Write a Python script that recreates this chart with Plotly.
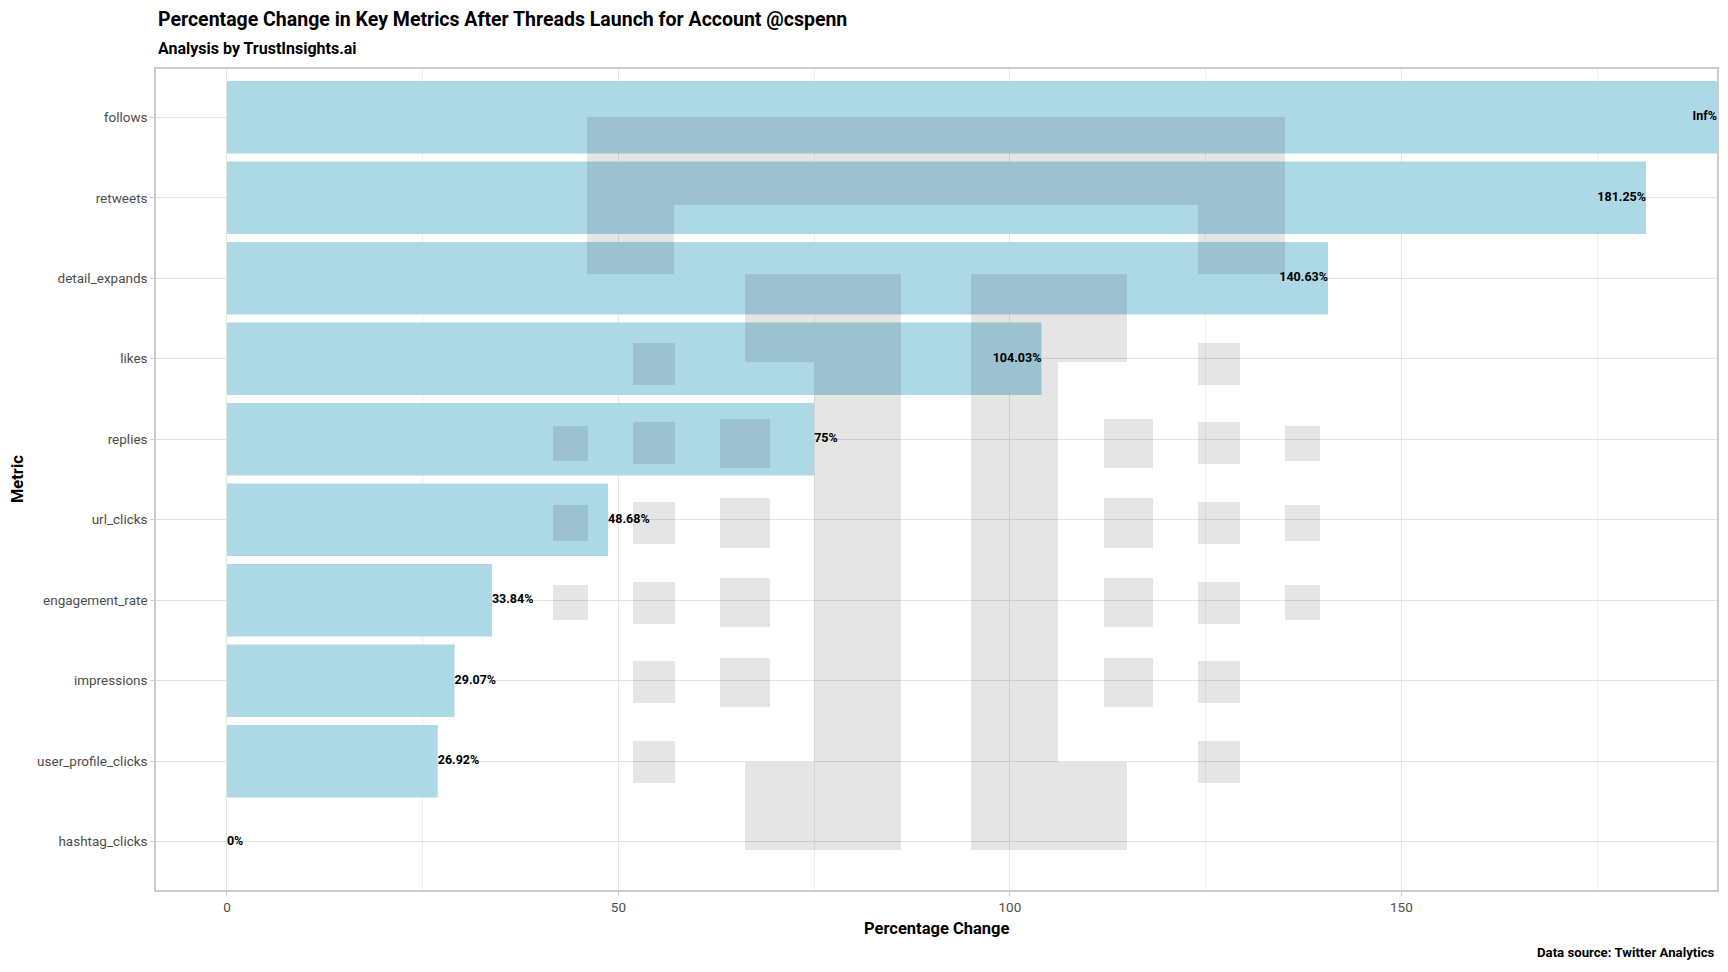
import math
import plotly.graph_objects as go

# ---- data ----
metrics = ["follows", "retweets", "detail_expands", "likes", "replies",
           "url_clicks", "engagement_rate", "impressions",
           "user_profile_clicks", "hashtag_clicks"]
pct_change = [math.inf, 181.25, 140.63, 104.03, 75.0, 48.68, 33.84, 29.07, 26.92, 0.0]
x_ticks = [0, 50, 100, 150]

title = "Percentage Change in Key Metrics After Threads Launch for Account @cspenn"
subtitle = "Analysis by TrustInsights.ai"
caption = "Data source: Twitter Analytics"

FONT = "Roboto, Liberation Sans, sans-serif"
W, H = 1728, 972
ML, MR, MT, MB = 156, 11, 69, 82
PW, PH = W - ML - MR, H - MT - MB

finite = [v for v in pct_change if math.isfinite(v)]
span = max(finite) - 0
xmin, xmax = 0 - 0.05 * span, max(finite) + 0.05 * span

plot_vals = [xmax if math.isinf(v) else v for v in pct_change]
labels = [("Inf%" if math.isinf(v) else f"{v:g}%") for v in pct_change]
positions = ["middle left" if v > 100 else "middle right" for v in pct_change]

fig = go.Figure()
fig.add_trace(go.Bar(
    x=plot_vals, y=metrics, orientation="h", width=0.9,
    marker=dict(color="#ADD8E6", line=dict(width=0)),
    hoverinfo="skip", showlegend=False,
))
fig.add_trace(go.Scatter(
    x=plot_vals, y=metrics, mode="text", text=labels, textposition=positions,
    textfont=dict(family=FONT, size=12.5, color="black", weight="bold"),
    cliponaxis=False, showlegend=False, hoverinfo="skip",
))

# ---- watermark logo (decoration, pixel rectangles converted to paper coords) ----
def rect(x0, y0, x1, y1):
    return dict(type="rect", xref="paper", yref="paper",
                x0=(x0 - ML) / PW, x1=(x1 - ML) / PW,
                y0=(MT + PH - y1) / PH, y1=(MT + PH - y0) / PH,
                fillcolor="rgba(0,0,0,0.1)", line=dict(width=0), layer="above")

logo = [
    (587, 117, 1285, 205), (587, 205, 674, 274), (1198, 205, 1285, 274),
    (745, 274, 901, 362), (814, 362, 901, 762), (745, 762, 901, 850),
    (971, 274, 1127, 362), (971, 362, 1058, 762), (971, 762, 1127, 850),
]
colA = (553, 588); colF = (1285, 1320)
colB = (633, 675); colE = (1198, 1240)
colC = (720, 770); colD = (1104, 1153)
rowsAF = [(426, 461), (505, 541), (585, 620)]
rowsBE = [(343, 385), (422, 464), (502, 544), (582, 624), (661, 703), (741, 783)]
rowsCD = [(419, 468), (498, 548), (578, 627), (658, 707)]
for cols, rows in [((colA, colF), rowsAF), ((colB, colE), rowsBE), ((colC, colD), rowsCD)]:
    for c in cols:
        for r in rows:
            logo.append((c[0], r[0], c[1], r[1]))
shapes = [rect(*r) for r in logo]

annotations = [
    dict(text=f"<b>{title}</b>", x=0, y=1, xref="paper", yref="paper", xanchor="left",
         yanchor="middle", yshift=MT - 19, showarrow=False,
         font=dict(family=FONT, size=19.5, color="black")),
    dict(text=f"<b>{subtitle}</b>", x=0, y=1, xref="paper", yref="paper", xanchor="left",
         yanchor="middle", yshift=MT - 48.5, showarrow=False,
         font=dict(family=FONT, size=16, color="black")),
    dict(text="<b>Percentage Change</b>", x=0.5, y=0, xref="paper", yref="paper",
         xanchor="center", yanchor="middle", yshift=-38, showarrow=False,
         font=dict(family=FONT, size=16.5, color="black")),
    dict(text="<b>Metric</b>", x=0, y=0.5, xref="paper", yref="paper", textangle=-90,
         xanchor="center", yanchor="middle", xshift=-(ML - 17.6), showarrow=False,
         font=dict(family=FONT, size=16.5, color="black")),
    dict(text=f"<b>{caption}</b>", x=1, y=0, xref="paper", yref="paper",
         xanchor="right", yanchor="middle", yshift=-62, showarrow=False,
         font=dict(family=FONT, size=13.2, color="black")),
]

fig.update_layout(
    width=W, height=H, margin=dict(l=ML, r=MR, t=MT, b=MB, autoexpand=False),
    paper_bgcolor="white", plot_bgcolor="white",
    shapes=shapes, annotations=annotations, bargap=0.1,
    font=dict(family=FONT),
    xaxis=dict(range=[xmin, xmax], tickmode="array", tickvals=x_ticks,
               ticktext=[str(t) for t in x_ticks], showgrid=True, gridcolor="#e6e6e6",
               gridwidth=1, zeroline=False, ticks="outside", ticklen=4, tickcolor="#cccccc",
               tickfont=dict(family=FONT, size=13.5, color="#4d4d4d"),
               minor=dict(tickmode="array", tickvals=[25, 75, 125, 175], showgrid=True,
                          gridcolor="#efefef", gridwidth=1),
               showline=True, linecolor="#cccccc", linewidth=1.5, mirror=True),
    yaxis=dict(categoryorder="array", categoryarray=metrics[::-1], range=[-0.6, 9.6],
               showgrid=True, gridcolor="#e3e3e3", gridwidth=1, ticks="outside",
               ticklen=4, tickcolor="#cccccc",
               tickfont=dict(family=FONT, size=13.5, color="#4d4d4d"),
               showline=True, linecolor="#cccccc", linewidth=1.5, mirror=True),
)

fig.write_html("out.html", config={"displayModeBar": False},
               post_script="document.body.style.margin='0px';")
